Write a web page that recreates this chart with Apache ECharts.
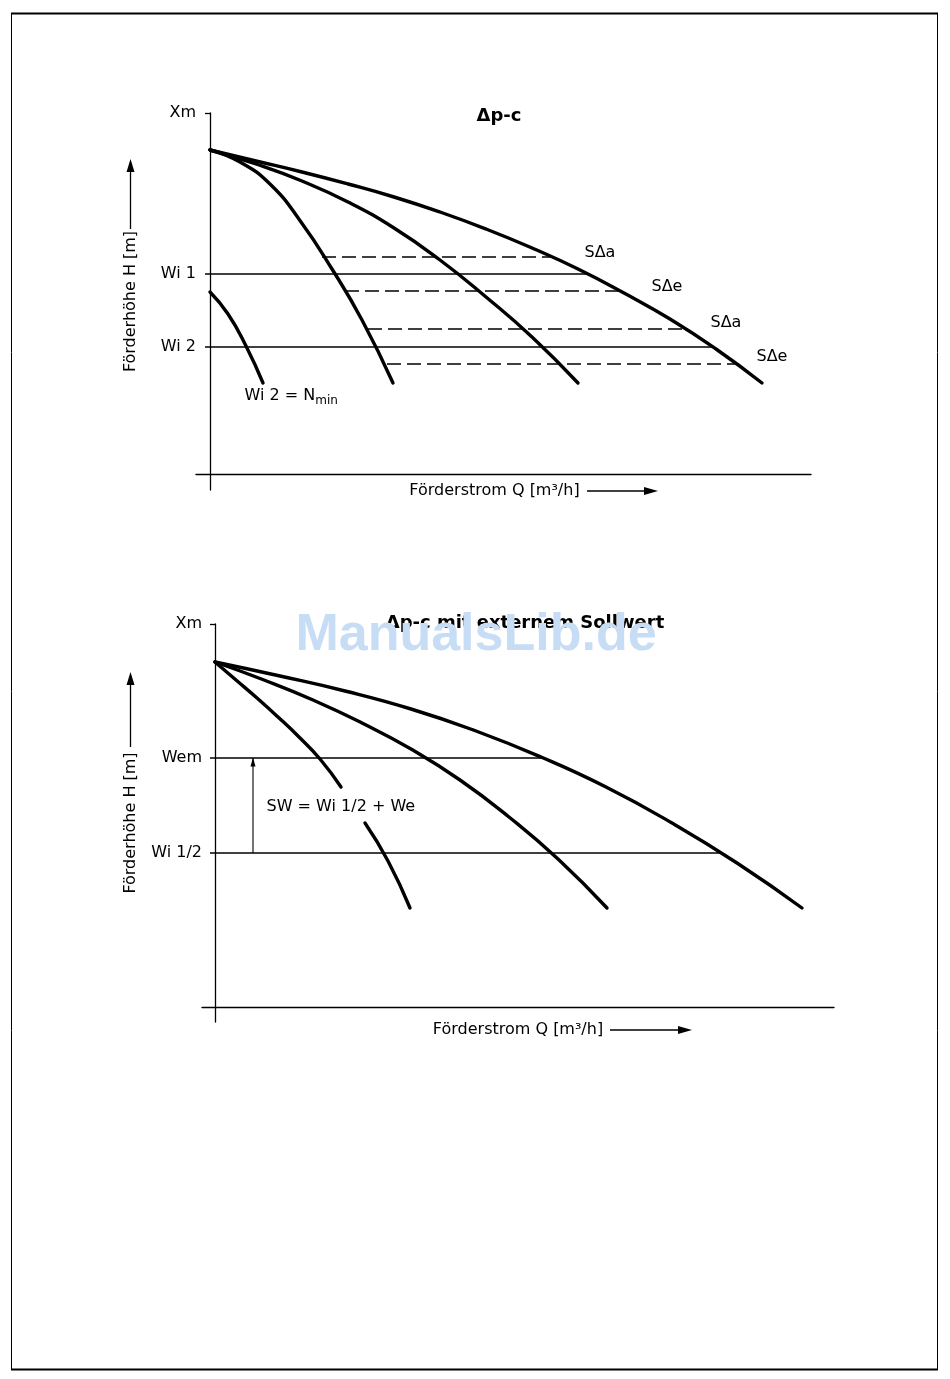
<!DOCTYPE html>
<html><head><meta charset="utf-8">
<script src="https://cdn.jsdelivr.net/npm/echarts@6/dist/echarts.min.js"></script>
<style>html,body{margin:0;padding:0;background:#fff}#c{width:950px;height:1379px}</style>
</head><body><div id="c"></div>
<script>
// ---------- DATA (Q, H) in schematic units ----------
// Top chart: Δp-c
const topCurveA = [[0,324],[30,312],[61,289],[91,252],[122,205],[152,154],[183,91]];
const topCurveB = [[0,324],[46,310],[92,293],[138,272],[184,246],[230,214],[276,177],[322,137],[368,91]];
const topCurveC = [[0,324],[46,313],[92,302],[138,290],[184,277],[230,262],[276,245],[322,226],[368,205],[414,181],[460,155],[506,125],[552,91]];
const topCurveNmin = [[0,182],[18,160],[36,128],[53,91]];
const topWi1 = [[-5,200],[377,200]];
const topWi2 = [[-5,127],[502,127]];
const topDash1 = [[112,217],[343,217]];
const topDash2 = [[135,183],[412,183]];
const topDash3 = [[158,145],[477,145]];
const topDash4 = [[177,110],[525,110]];
const topTickValues = [361, 200, 127];
const topTickLabels = ['Xm', 'Wi 1', 'Wi 2'];
const topCurveLabels = ['SΔa', 'SΔe', 'SΔa', 'SΔe'];
const topCurveLabelAt = [[374,221],[441,187],[500,151],[546,117]];
const topNminLabelAt = [34,78];

// Bottom chart: Δp-c mit externem Sollwert
const botCurveA1 = [[0,345],[21,327],[42,309],[63,290],[84,270],[105,248],[126,220]];
const botCurveA2 = [[150,184],[173,146],[195,99]];
const botCurveB = [[0,345],[49,327],[98,307],[147,284],[196,258],[245,227],[294,190],[343,148],[392,99]];
const botCurveC = [[0,345],[65,331],[130,316],[196,298],[261,276],[326,250],[391,220],[457,184],[522,144],[587,99]];
const botWem = [[-5,249],[326,249]];
const botWi12 = [[-5,154],[505,154]];
const botArrow = [[38,154],[38,249]];
const botTickValues = [383, 249, 154];
const botTickLabels = ['Xm', 'Wem', 'Wi 1/2'];
const botSwLabel = 'SW = Wi 1/2 + We';
const botSwLabelAt = [51,200];

const titleTop = 'Δp-c';
const titleBot = 'Δp-c mit externem Sollwert';
const yName = 'Förderhöhe H [m]';
const xName = 'Förderstrom Q [m³/h]';

// ---------- CHART ----------
const FONT = 'DejaVu Sans, Liberation Sans, sans-serif';
const chart = echarts.init(document.getElementById('c'), null, {renderer:'canvas'});

function labelMap(vals, labels){ const m = {}; vals.forEach((v,i)=>m[v]=labels[i]); return m; }
const topMap = labelMap(topTickValues, topTickLabels);
const botMap = labelMap(botTickValues, botTickLabels);

function curve(data, xi, w){
  return {type:'line', xAxisIndex:xi, yAxisIndex:xi, data:data, smooth:0.5, showSymbol:false, symbol:'none',
    lineStyle:{color:'#000', width:w||3.4, cap:'round', join:'round'}, z:5, silent:true, animation:false};
}
function hline(data, xi, dashed){
  return {type:'line', xAxisIndex:xi, yAxisIndex:xi, data:data, showSymbol:false, symbol:'none',
    lineStyle:{color:'#000', width:1.3, type: dashed ? [14,6] : 'solid'}, z:3, silent:true, animation:false};
}
function textSeries(xi, items){
  return {type:'scatter', xAxisIndex:xi, yAxisIndex:xi, symbolSize:1, silent:true, animation:false,
    itemStyle:{color:'#fff'},
    data: items,
    label:{show:true, position:'right', distance:0, align:'left', verticalAlign:'middle', color:'#000', opacity:1,
      fontWeight:'normal', textBorderWidth:0, fontFamily:FONT, fontSize:16, formatter: p => p.name,
      rich:{a:{fontFamily:FONT, fontSize:16, color:'#000'}, s:{fontFamily:FONT, fontSize:12, color:'#000', padding:[9,0,0,0]}}},
    z:6};
}

function yAxisCfg(gi, max, min, map, gap){
  return {type:'value', gridIndex:gi, min:min, max:max, splitLine:{show:false},
    axisLine:{show:true, onZero:true, lineStyle:{color:'#000', width:1.3}},
    axisTick:{show:true, length:5, customValues:[max], lineStyle:{color:'#000', width:1.3}},
    axisLabel:{show:true, margin:0, customValues:Object.keys(map).map(Number), formatter: v => map[v] || '',
      color:'#000', fontFamily:FONT, fontSize:16},
    name:yName, nameLocation:'middle', nameRotate:90, nameGap:gap, nameMoveOverlap:false,
    nameTextStyle:{color:'#000', fontFamily:FONT, fontSize:16}};
}
function xAxisCfg(gi, min, max, gap, pad){
  return {type:'value', gridIndex:gi, min:min, max:max, splitLine:{show:false},
    axisLine:{show:true, onZero:true, lineStyle:{color:'#000', width:1.3}},
    axisTick:{show:false}, axisLabel:{show:false},
    name:xName, nameLocation:'middle', nameGap:gap, nameMoveOverlap:false,
    nameTextStyle:{color:'#000', fontFamily:FONT, fontSize:16, padding:pad}};
}

const option = {
  backgroundColor:'#fff',
  animation:false,
  title:[
    {text:titleTop, left:494, top:102, textAlign:'center', textStyle:{fontFamily:FONT, fontWeight:'bold', fontSize:18, color:'#000'}},
    {text:titleBot, left:520, top:609, textAlign:'center', textStyle:{fontFamily:FONT, fontWeight:'bold', fontSize:18, color:'#000'}}
  ],
  grid:[
    {left:196, right:139, top:113, bottom:889},
    {left:202, right:116, top:624, bottom:357}
  ],
  xAxis:[ xAxisCfg(0, -14, 601, -7, [0,18,0,0]), xAxisCfg(1, -13, 619, 0, [0,0,0,0]) ],
  yAxis:[ yAxisCfg(0, 361, -16, topMap, 57), yAxisCfg(1, 383, -15, botMap, 63) ],
  series:[
    curve(topCurveA,0), curve(topCurveB,0), curve(topCurveC,0), curve(topCurveNmin,0),
    hline(topWi1,0,false), hline(topWi2,0,false),
    hline(topDash1,0,true), hline(topDash2,0,true), hline(topDash3,0,true), hline(topDash4,0,true),
    textSeries(0, topCurveLabels.map((n,i)=>({name:n, value:topCurveLabelAt[i]})).concat([
      {name:'{a|Wi 2 = N}{s|min}', value:topNminLabelAt}
    ])),
    curve(botCurveA1,1), curve(botCurveA2,1), curve(botCurveB,1), curve(botCurveC,1),
    hline(botWem,1,false), hline(botWi12,1,false),
    {type:'line', xAxisIndex:1, yAxisIndex:1, silent:true, animation:false, showSymbol:true, symbol:'none',
      data:[botArrow[0], {value:botArrow[1], symbol:'triangle', symbolSize:[5,9], symbolOffset:[0,4],
        itemStyle:{color:'#000'}}],
      lineStyle:{color:'#000', width:1.1}, z:4},
    textSeries(1, [{name:botSwLabel, value:botSwLabelAt}])
  ],
  graphic:[
    {type:'rect', shape:{x:11.5, y:13.5, width:926, height:1356}, style:{fill:null, stroke:'#000', lineWidth:1}, z:0},
    {type:'line', shape:{x1:11, y1:13.5, x2:938, y2:13.5}, style:{stroke:'#000', lineWidth:2}},
    {type:'line', shape:{x1:11, y1:1369.5, x2:938, y2:1369.5}, style:{stroke:'#000', lineWidth:2}},
    // axis name arrows
    {type:'line', shape:{x1:130.5, y1:229, x2:130.5, y2:170}, style:{stroke:'#000', lineWidth:1.3}},
    {type:'polygon', shape:{points:[[130.5,159],[126.5,172],[134.5,172]]}, style:{fill:'#000'}},
    {type:'line', shape:{x1:587, y1:491, x2:646, y2:491}, style:{stroke:'#000', lineWidth:1.3}},
    {type:'polygon', shape:{points:[[658,491],[644,487],[644,495]]}, style:{fill:'#000'}},
    {type:'line', shape:{x1:130.5, y1:747, x2:130.5, y2:684}, style:{stroke:'#000', lineWidth:1.3}},
    {type:'polygon', shape:{points:[[130.5,672],[126.5,685],[134.5,685]]}, style:{fill:'#000'}},
    {type:'line', shape:{x1:610, y1:1030, x2:680, y2:1030}, style:{stroke:'#000', lineWidth:1.3}},
    {type:'polygon', shape:{points:[[692,1030],[678,1026],[678,1034]]}, style:{fill:'#000'}},
    // watermark
    {type:'text', x:476, y:636, z:100, style:{text:'ManualsLib.de', fontFamily:'Liberation Sans, Arial, sans-serif',
      fontWeight:'bold', fontSize:52, fill:'#c7dcf5', align:'center', verticalAlign:'middle'}}
  ]
};
chart.setOption(option);
</script></body></html>
